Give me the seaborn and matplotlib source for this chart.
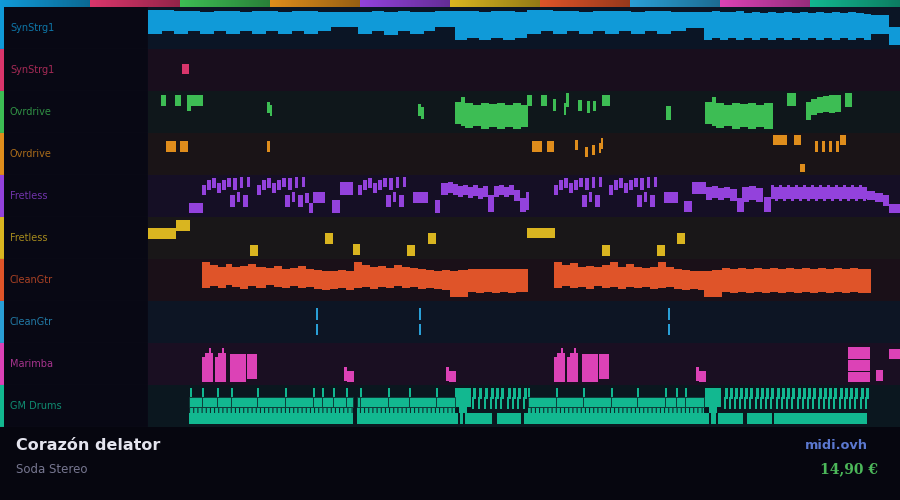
import numpy as np
import pandas as pd
import matplotlib
import matplotlib.pyplot as plt
import seaborn as sns
from matplotlib.colors import to_rgb

matplotlib.use('Agg')

# ---- track list (top to bottom) ----
track_names = ['SynStrg1', 'SynStrg1', 'Ovrdrive', 'Ovrdrive', 'Fretless',
               'Fretless', 'CleanGtr', 'CleanGtr', 'Marimba', 'GM Drums']
track_colors = ['#109ad8', '#d9356b', '#3dbd54', '#df8d1c', '#9342dc',
                '#d9b520', '#df5429', '#2a9fd6', '#dc42b6', '#12b890']

song_title = 'Corazón delator'
song_artist = 'Soda Stereo'
site_name = 'midi.ovh'
price_text = '14,90 €'

# notes: (start beat, duration, low pitch, high pitch)
synstrg_notes = [
    (0, 7, 47.5, 59.5), (7, 6, 49, 59.5), (13, 7, 47.5, 59), (20, 6, 49, 59),
    (26, 7, 47.5, 58.5), (33, 6, 49, 59), (39, 7, 47.5, 59), (46, 6, 49, 58.5),
    (52, 7, 47.5, 59), (59, 6, 49, 59), (65, 7, 47.5, 58.5), (72, 6, 49, 59),
    (78, 7, 47.5, 59), (85, 6.5, 49, 58.5),
    (91.5, 13.5, 51, 58.5),
    (105, 7, 47.5, 58.5), (112, 6, 49, 59), (118, 7, 47, 58.5), (125, 6, 49, 59),
    (131, 7, 47.5, 58.5), (138, 5.5, 49, 58.5),
    (143.5, 10, 51, 59),
    (153.5, 6, 44.5, 59), (159.5, 6, 45.5, 59), (165.5, 6, 44.5, 58.5),
    (171.5, 6, 45.5, 59), (177.5, 6, 44.5, 59), (183.5, 6, 45.5, 58.5),
    (189.5, 7, 47.5, 59.5), (196.5, 6, 49, 59.5), (202.5, 7, 47.5, 59), (209.5, 6, 49, 59),
    (215.5, 7, 47.5, 58.5), (222.5, 6, 49, 59), (228.5, 7, 47.5, 59), (235.5, 6, 49, 59),
    (241.5, 7, 47.5, 58.5), (248.5, 6, 49, 59), (254.5, 7, 47.5, 59), (261.5, 7.5, 49, 58.5),
    (269, 9, 50.5, 58.5),
    (278, 4, 44.5, 58.5), (282, 4, 45.5, 59), (286, 4, 44.5, 58.5), (290, 4, 45.5, 58.5),
    (294, 4, 44.5, 59), (298, 4, 45.5, 58), (302, 4, 44.5, 58.5), (306, 4, 45.5, 58),
    (310, 4, 44.5, 58.5), (314, 4, 45.5, 58), (318, 4, 44.5, 58.5), (322, 4, 45.5, 58),
    (326, 4, 44.5, 58.5), (330, 4, 45.5, 58), (334, 4, 44.5, 58.5), (338, 4, 45.5, 58),
    (342, 4, 44.5, 58.5), (346, 4, 45.5, 58), (350, 4, 44.5, 58.5), (354, 4, 45.5, 58),
    (358, 3.5, 44.5, 57.5),
    (361.5, 9, 47.5, 57), (370.5, 5.5, 42, 51),
]

synstrg2_notes = [(17, 3.5, 48.5, 53.5)]

ovrdrive_notes = [
    (6.5, 2.5, 53.5, 59), (13.5, 3, 53.5, 59), (19.5, 8, 53.5, 59), (19.5, 2, 51, 56.5),
    (59.5, 1.5, 50, 55.5), (61, 1.2, 48.5, 54),
    (135, 1.5, 48.5, 54.5), (136.5, 1.5, 47, 53),
    (153.5, 3, 44.5, 55.5), (156.5, 2, 43.5, 58), (158.5, 4, 42.5, 55), (162.5, 4, 43.5, 54),
    (166.5, 4, 42, 55), (170.5, 4, 43, 54.5), (174.5, 4, 42, 55), (178.5, 4, 43, 54),
    (182.5, 4, 42, 55), (186.5, 3.5, 43, 54),
    (189.5, 2.5, 53.5, 59), (196.5, 3, 53.5, 59), (202.5, 1.5, 51, 57),
    (208, 1.2, 49, 55), (209.2, 1.3, 53, 60), (215, 2, 51, 56.5),
    (219.5, 1.5, 50, 56), (222.5, 1.5, 51, 56), (227, 4, 53.5, 59),
    (259, 2.5, 46.5, 53.5),
    (278.5, 3.5, 44.5, 55.5), (282, 2, 43.5, 58), (284, 4, 42.5, 55), (288, 4, 43.5, 54),
    (292, 4, 42, 55), (296, 4, 43, 54.5), (300, 4, 42, 55), (304, 4, 43, 54),
    (308, 4.5, 42, 55),
    (319.5, 4.5, 53.5, 60),
    (329, 2.5, 46.5, 55.5), (331.5, 3, 49, 57), (334.5, 3, 50, 58), (337.5, 3, 50.5, 58.5),
    (340.5, 3, 50, 59), (343.5, 3, 50.5, 59),
    (348.5, 3.5, 53, 60),
]

ovrdrive2_notes = [
    (9, 5, 51.5, 57), (16, 4, 51.5, 57), (59.5, 1.5, 51.5, 57),
    (192, 5, 51.5, 57), (199.5, 3.5, 51.5, 57),
    (213.5, 1.5, 52.5, 57.5), (218.5, 1.5, 49, 54), (222, 1.5, 50, 55),
    (225.5, 1.2, 51, 56), (226.5, 1, 53, 58.5),
    (312.5, 7, 55, 60), (323, 3.5, 55, 60), (326, 2.5, 41.5, 45.5),
    (333.5, 1.5, 51.5, 57), (337, 1.5, 51.5, 57), (340.5, 1.5, 51.5, 57),
    (344, 1.5, 51.5, 57), (346, 3, 55, 60),
]

# fretless riff (offset within riff) and the beats where it is played
fretless_riff = [
    (0, 2, 51, 56), (2.5, 2, 53.5, 58.5), (5, 2, 54.5, 59.5), (7.5, 2, 52, 57),
    (10, 2, 53.5, 58.5), (12.5, 2, 55, 59.5), (15.5, 2, 53.5, 59.5), (19, 1.5, 54.5, 60),
    (22.5, 1.5, 55, 60), (14, 2.5, 45, 51), (17.5, 1.5, 47.5, 52.5), (20.5, 2.5, 45, 51),
]
fretless_riff_at = [27, 54.5, 105, 203, 230.5]
fretless_notes = [
    (20.5, 7, 42, 47), (78.5, 2, 47, 52), (80.5, 2, 42, 47), (82.5, 6, 47, 52.5),
    (92, 4, 42, 48.5), (96, 6.5, 51, 57.5), (132.5, 7.5, 47, 52.5), (143.5, 2.5, 42, 48.5),
    (146.5, 3.5, 51, 57), (150, 2.5, 52, 57.5), (152.5, 2.5, 51, 56.5), (155, 2.5, 50, 55.5),
    (157.5, 2.5, 51, 56), (160, 2.5, 49.5, 55), (162.5, 2.5, 50.5, 56), (165, 2.5, 49, 54.5),
    (167.5, 2.5, 50, 55.5), (170, 3, 42.5, 51), (173, 2.5, 50, 55.5), (175.5, 2.5, 51, 56),
    (178, 2.5, 50, 55), (180.5, 2.5, 51, 56), (183, 3, 48, 53.5), (186, 3, 42.5, 49.5),
    (189, 1.5, 43.5, 52.5),
    (258, 7, 47, 52.5), (268, 4, 42.5, 48), (272, 7, 51.5, 57.5),
    (279, 3, 48.5, 55), (282, 3, 49.5, 55.5), (285, 3, 48.5, 54.5), (288, 3, 49.5, 55),
    (291, 3.5, 48, 54), (294.5, 3.5, 42.5, 49.5),
    (297, 3.5, 47.5, 55), (300.5, 3.5, 48.5, 55.5), (304, 3.5, 47.5, 54.5),
    (308, 3.5, 42.5, 50), (311.5, 48, 49, 55),
    (359.5, 4, 48.5, 53), (363.5, 4, 47.5, 52), (367.5, 3, 45.5, 51),
    (370.5, 5.5, 42, 46.5),
]
# repeated notes riding on the long fretless note (top and bottom edges)
fretless_repeats = [311.5, 315.5, 319.5, 323.5, 327.5, 331.5, 335.5, 339.5,
                    343.5, 347.5, 351.5, 355.5]

fretless2_notes = [
    (0, 14, 50, 55.5), (14, 7, 54, 59.5), (51, 4, 41.5, 47), (88.5, 4, 47.5, 53),
    (102.5, 3.5, 42, 47.5), (129.5, 4, 41.5, 47), (140, 4, 47.5, 53),
    (189.5, 14, 50.5, 55.5), (227, 4, 41.5, 47), (254.5, 4, 41.5, 47),
    (264.5, 4, 47.5, 53),
]

cleangtr_notes = [
    (27, 4, 46.5, 59.5), (31, 4, 47.5, 58), (35, 4, 46.5, 57), (39, 3, 48, 58.5),
    (42, 4, 47, 57), (46, 4, 46, 57.5), (50, 4, 47.5, 58.5), (54, 5, 46.5, 57),
    (59, 4, 48, 56.5), (63, 4, 47, 57.5), (67, 4, 46.5, 56), (71, 4, 47.5, 56.5),
    (75, 4, 46.5, 57.5), (79, 4, 47, 56), (83, 4, 46, 55.5), (87, 4, 45.5, 55),
    (91, 4, 46, 55), (95, 4, 46.5, 55.5), (99, 4, 45.5, 55), (103, 4, 46.5, 59.5),
    (107, 4, 47, 58), (111, 4, 46, 57), (115, 4, 47, 57.5), (119, 4, 46.5, 56.5),
    (123, 4, 47.5, 58), (127, 4, 46.5, 57), (131, 4, 47, 56.5), (135, 4, 46, 56),
    (139, 4, 46.5, 55.5), (143, 4, 46, 55), (147, 4, 45.5, 55.5), (151, 4, 42, 55),
    (155, 5, 42, 55.5), (160, 4, 44.5, 56), (164, 4, 44, 56), (168, 4, 44.5, 56),
    (172, 4, 44, 56), (176, 4, 44.5, 56), (180, 4, 44, 56), (184, 6, 44.5, 56),
    (203, 4, 46.5, 59.5), (207, 4, 47.5, 58), (211, 4, 46.5, 59), (215, 4, 47, 57),
    (219, 4, 46, 57.5), (223, 4, 47.5, 57), (227, 4, 46.5, 58), (231, 4, 47, 59.5),
    (235, 4, 46, 57), (239, 4, 47, 58.5), (243, 4, 46.5, 57), (247, 4, 47, 56.5),
    (251, 4, 46, 57), (255, 4, 46.5, 59.5), (259, 4, 47, 57), (263, 4, 46, 56),
    (267, 4, 45.5, 55.5), (271, 4, 46, 55), (275, 3, 45.5, 55), (278, 4, 42, 55),
    (282, 5, 42, 55.5), (287, 4, 44.5, 56.5), (291, 4, 44, 56), (295, 4, 44.5, 56.5),
    (299, 4, 44, 56), (303, 4, 44.5, 56.5), (307, 4, 44, 56), (311, 4, 44.5, 56.5),
    (315, 4, 44, 56), (319, 4, 44.5, 56.5), (323, 4, 44, 56), (327, 4, 44.5, 56.5),
    (331, 4, 44, 56), (335, 4, 44.5, 56.5), (339, 4, 44, 56), (343, 4, 44.5, 56.5),
    (347, 4, 44, 56), (351, 4, 44.5, 56.5), (355, 6.5, 44, 56),
]

cleangtr2_notes = [
    (84, 1, 51.5, 57.5), (84, 1, 44, 49.5),
    (135.5, 1, 51.5, 57.5), (135.5, 1, 44, 49.5),
    (260, 1, 51.5, 57.5), (260, 1, 44, 49.5),
]

marimba_notes = [
    (27, 1.5, 41.5, 54), (28.5, 4, 41.5, 56), (30.5, 1.2, 55, 58.5),
    (33.5, 1.5, 41.5, 54), (35, 4, 41.5, 56), (37, 1.2, 55, 58.5),
    (41, 8, 41.5, 55.5), (49.5, 5, 43, 55.5),
    (98, 1.5, 42, 49), (99.5, 3.5, 41.5, 47),
    (149, 1.5, 42, 49), (150.5, 3.5, 41.5, 47),
    (203, 1.5, 41.5, 54), (204.5, 4, 41.5, 56), (206.5, 1.2, 55, 58.5),
    (209.5, 1.5, 41.5, 54), (211, 4, 41.5, 56), (213, 1.2, 55, 58.5),
    (217, 8, 41.5, 55.5), (225.5, 5, 43, 55.5),
    (274, 1.5, 42, 49), (275.5, 3.5, 41.5, 47),
    (350, 11, 53, 59), (350, 11, 47, 52.5), (350, 11, 41.5, 46.5),
    (364, 3.5, 42, 47.5), (370.5, 5.5, 53, 58),
]

# drums: accents (crash/tom hits), groove blocks, hi-hat rows, fills
drum_accents = [21, 27, 34.5, 41.5, 54.5, 68.5, 82.5, 87, 92.5, 99,
                106, 120, 130.5, 144,
                190, 204, 217.5, 231.5, 244.5, 258.5, 264, 268.5]
drum_snare = [(20.5, 6.5), (27, 7.5), (34.5, 7), (41.5, 13), (54.5, 14), (68.5, 14),
              (82.5, 4.5), (87, 5.5), (92.5, 6.5), (99, 3.5), (104.5, 1.5), (106, 14),
              (120, 10.5), (130.5, 13.5), (144, 9.5), (190, 14), (204, 13.5),
              (217.5, 14), (231.5, 13), (244.5, 14), (258.5, 5.5), (264, 4.5), (268.5, 9.5)]
drum_hat = [(20.5, 82), (104.5, 49), (190, 88)]
drum_kick = [(20.5, 82), (104.5, 49), (190, 88),
             (153.5, 1.5), (156, 1.5), (158.5, 13.5), (174.5, 12), (188, 2),
             (278, 2.5), (281.5, 2.5), (285, 12.5), (299.5, 12.5), (313, 46.5)]
drum_fill_start = [153.5, 278.5]
drum_fill_hits = [162, 165, 168, 171, 173.5, 176, 179.5, 182, 184.5, 187.5,
                  288, 290.5, 293, 295.5, 298, 300.5, 303.5, 306, 308.5, 311,
                  314, 316.5, 319, 321.5, 324.5, 327, 329.5, 332, 335, 337.5,
                  340, 342.5, 345.5, 348, 350.5, 353, 356, 358.5]

# ---- assemble into one table ----
riff_rows = [(s + dt, d, lo, hi) for s in fretless_riff_at for (dt, d, lo, hi) in fretless_riff]
riff_rows += [(t, 1.5, 54.5, 56) for t in fretless_repeats]
riff_rows += [(t + 2, 1.5, 48, 49.5) for t in fretless_repeats]
drum_rows = [(t, 1, 55, 59.5) for t in drum_accents]
drum_rows += [(s, 8, 50, 59.5) for s in drum_fill_start]
drum_rows += [(s + 2, 4, 47, 50) for s in drum_fill_start]
drum_rows += [(t, 1.2, 49, 55) for t in drum_fill_hits]
drum_rows += [(t + 0.6, 1.2, 54, 59.5) for t in drum_fill_hits]

per_track = [synstrg_notes, synstrg2_notes, ovrdrive_notes, ovrdrive2_notes,
             fretless_notes + riff_rows, fretless2_notes, cleangtr_notes,
             cleangtr2_notes, marimba_notes, drum_rows]
frames = []
for i, notes in enumerate(per_track):
    df = pd.DataFrame(notes, columns=['start', 'dur', 'low', 'high'])
    df['track'] = i
    frames.append(df)
notes_df = pd.concat(frames, ignore_index=True)

# ---- style ----
BG = '#06060f'
LABEL_BG = '#080814'
ROW_BASE = '#0b0b17'
GRID = '#1c1c2c'
sns.set_theme(style='dark', rc={'figure.facecolor': BG, 'axes.facecolor': BG,
                                'hatch.linewidth': 0.7})
plt.rcParams['font.family'] = ['DejaVu Sans']
palette = sns.color_palette(track_colors)


def tint(c, a=0.07):
    base = np.array(to_rgb(ROW_BASE))
    return tuple(base * (1 - a) + np.array(to_rgb(c)) * a)


W, H = 900, 500
TOP_H, ROW_H, LABEL_W = 7, 42, 148

fig = plt.figure(figsize=(9, 5), dpi=100)

# top colour strip
ax_top = fig.add_axes([0, 1 - TOP_H / H, 1, TOP_H / H])
for i, c in enumerate(palette):
    rgb = np.array(c)
    grad = np.linspace(1.0, 0.68, 60)[None, :, None] * rgb[None, None, :]
    ax_top.imshow(grad, extent=(i, i + 1, 0, 1), aspect='auto')
ax_top.set_xlim(0, len(palette))
ax_top.set_ylim(0, 1)
ax_top.axis('off')

for i, name in enumerate(track_names):
    col = palette[i]
    y_top = TOP_H + i * ROW_H
    b = 1 - (y_top + ROW_H) / H

    axl = fig.add_axes([0, b, LABEL_W / W, ROW_H / H])
    axl.set_facecolor(LABEL_BG)
    axl.set_xlim(0, LABEL_W)
    axl.set_ylim(0, 1)
    axl.axvspan(0, 4, color=col, lw=0)
    axl.text(10, 0.5, name, color=col, alpha=0.75, fontsize=7, va='center', ha='left')
    axl.set_xticks([])
    axl.set_yticks([])
    for s in axl.spines.values():
        s.set_visible(False)
    axl.spines['bottom'].set_visible(True)
    axl.spines['bottom'].set_color(GRID)
    axl.spines['bottom'].set_linewidth(0.8)
    axl.spines['right'].set_visible(True)
    axl.spines['right'].set_color('#20203a')
    axl.spines['right'].set_linewidth(0.8)

    ax = fig.add_axes([LABEL_W / W, b, 1 - LABEL_W / W, ROW_H / H])
    ax.set_facecolor(tint(col))
    ax.set_xlim(0, 376)
    ax.set_ylim(40, 61)
    d = notes_df[notes_df.track == i]
    ax.bar(d.start, d.high - d.low, width=d.dur, bottom=d.low, align='edge',
           color=col, linewidth=0)
    if name == 'GM Drums':
        edge = tint(col, 0.25)
        ax.bar([s for s, _ in drum_snare], 5, width=[w for _, w in drum_snare], bottom=50,
               align='edge', color=col, edgecolor=edge, linewidth=0.6)
        ax.bar([s for s, _ in drum_hat], 2.5, width=[w for _, w in drum_hat], bottom=47,
               align='edge', color=col, edgecolor=tint(col, 0.1), linewidth=0, hatch='||||')
        ax.bar([s for s, _ in drum_kick], 5.5, width=[w for _, w in drum_kick], bottom=41.5,
               align='edge', color=col, linewidth=0)
    ax.set_xticks([])
    ax.set_yticks([])
    for s in ax.spines.values():
        s.set_visible(False)
    ax.spines['bottom'].set_visible(True)
    ax.spines['bottom'].set_color(GRID)
    ax.spines['bottom'].set_linewidth(0.8)

# footer
ax_f = fig.add_axes([0, 0, 1, (H - TOP_H - 10 * ROW_H) / H])
ax_f.set_facecolor(BG)
ax_f.set_xlim(0, 1)
ax_f.set_ylim(0, 1)
ax_f.set_xticks([])
ax_f.set_yticks([])
for s in ax_f.spines.values():
    s.set_visible(False)
ax_f.text(16 / W, 0.74, song_title, color='#e4e4ee', fontsize=11.5,
          fontweight='bold', va='center', ha='left')
ax_f.text(16 / W, 0.42, song_artist, color='#767690', fontsize=8.5,
          va='center', ha='left')
ax_f.text(868 / W, 0.74, site_name, color='#5b78d0', fontsize=9.3,
          fontweight='bold', va='center', ha='right')
ax_f.text(878 / W, 0.42, price_text, color='#4cb85a', fontsize=10,
          fontweight='bold', family='DejaVu Serif', va='center', ha='right')

plt.savefig('out.png', dpi=100, facecolor=BG)
plt.close()
